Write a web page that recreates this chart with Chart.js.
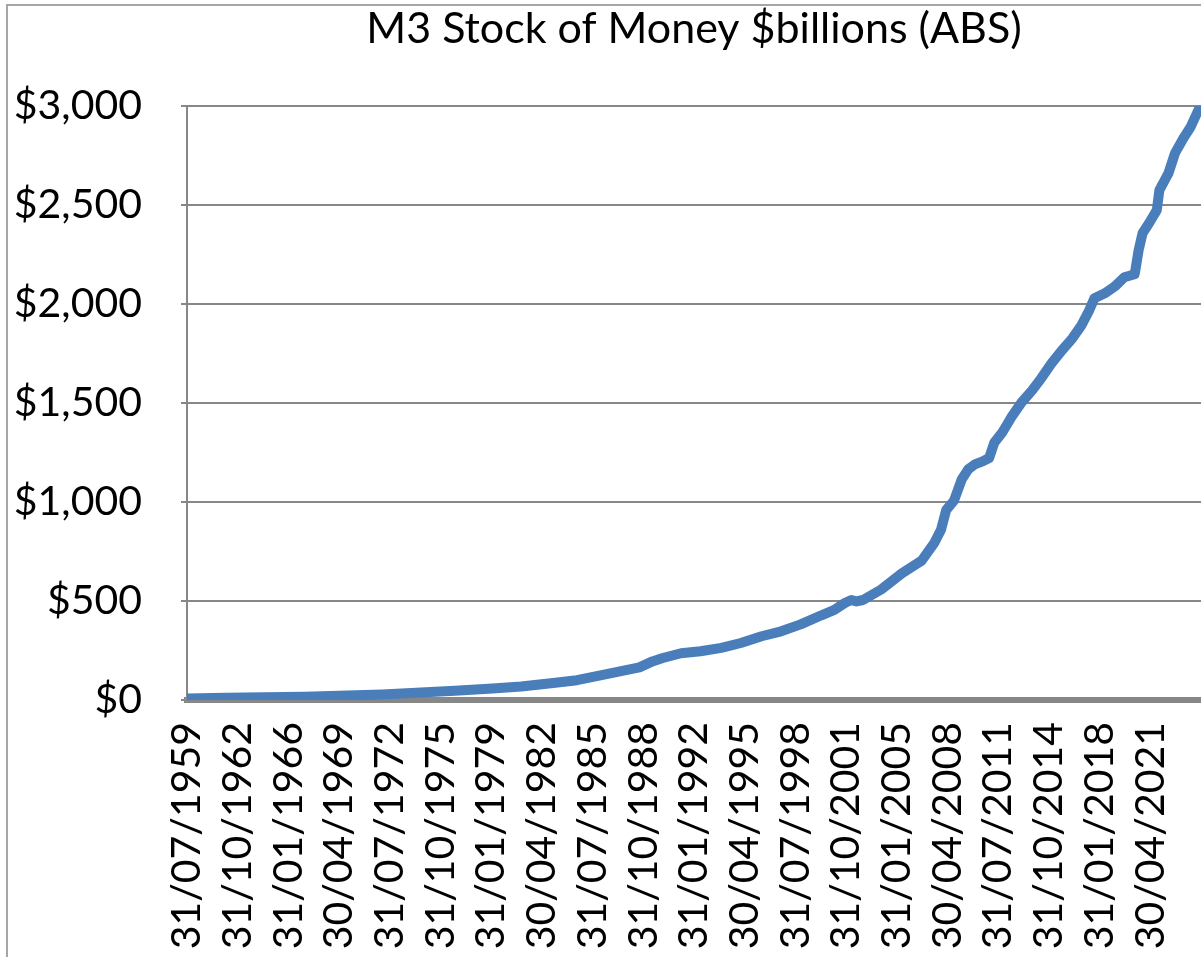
<!DOCTYPE html>
<html><head><meta charset="utf-8">
<script src="https://cdn.jsdelivr.net/npm/chart.js@4.4.1/dist/chart.umd.min.js"></script>
<style>
html,body{margin:0;padding:0;background:#fff;}
#wrap{position:relative;width:1201px;height:957px;overflow:hidden;background:#fff;}
#frame{position:absolute;left:6px;top:4px;width:1400px;height:1200px;border-left:2px solid #a6a6a6;border-top:2px solid #a6a6a6;}
canvas{position:absolute;left:0;top:0;}
</style></head><body>
<div id="wrap"><div id="frame"></div><canvas id="c" width="1201" height="957"></canvas></div>
<script>
const chartTitle = 'M3 Stock of Money $billions (ABS)';
const dates = ['1959-07','1962-01','1964-07','1967-01','1969-04','1972-01','1974-07','1976-09','1979-02','1980-12','1982-11','1984-07','1986-01','1987-04','1988-07','1989-05','1990-01','1991-03','1992-06','1993-10','1995-01','1996-05','1997-08','1998-11','2000-03','2001-01','2001-09','2002-02','2002-06','2002-11','2004-01','2005-05','2006-08','2007-06','2007-11','2008-03','2008-09','2009-03','2009-08','2010-01','2010-07','2010-12','2011-04','2011-10','2012-05','2013-01','2013-09','2014-04','2014-12','2015-08','2016-04','2016-11','2017-05','2017-09','2018-05','2019-01','2019-08','2020-04','2020-07','2020-10','2021-03','2021-09','2021-11','2022-06','2022-11','2023-06','2023-11','2024-05'];
const values = [8,11,14,17,21,28,38,47,58,68,85,100,124,145,165,195,212,236,246,263,288,322,347,382,428,455,490,505,498,505,558,640,703,795,860,960,1007,1115,1165,1190,1205,1222,1300,1350,1427,1503,1563,1624,1700,1766,1826,1892,1968,2029,2054,2090,2135,2150,2271,2357,2408,2474,2575,2661,2762,2843,2894,2980];
const tickLabels = ['31/07/1959','31/10/1962','31/01/1966','30/04/1969','31/07/1972','31/10/1975','31/01/1979','30/04/1982','31/07/1985','31/10/1988','31/01/1992','30/04/1995','31/07/1998','31/10/2001','31/01/2005','30/04/2008','31/07/2011','31/10/2014','31/01/2018','30/04/2021'];
const yMin = 0, yMax = 3000, yStep = 500;

const START_Y = 1959, START_M = 7;
function idxFromYM(s){ const [y,m] = s.split('-').map(Number); return (y-START_Y)*12 + (m-START_M); }
function idxFromDMY(s){ const [d,m,y] = s.split('/').map(Number); return (y-START_Y)*12 + (m-START_M); }
const tickIdx = tickLabels.map(idxFromDMY);
const points = dates.map((d,i)=>({x: idxFromYM(d), y: values[i]}));

const FONT = 'Lato';
const GRID = '#878787';

new Chart(document.getElementById('c'), {
  type: 'line',
  data: { datasets: [{ data: points, borderColor: '#4a7ebb', borderWidth: 10, pointRadius: 0, tension: 0, borderJoinStyle: 'round', borderCapStyle: 'round', fill: false }] },
  options: {
    responsive: false, animation: false, devicePixelRatio: 1,
    layout: { padding: 0 },
    plugins: {
      legend: { display: false }, tooltip: { enabled: false },
      title: { display: true, text: chartTitle, fullSize: false, color: '#000',
        font: { family: FONT, size: 43, weight: 'normal', lineHeight: 1.2 },
        padding: { top: 3.2, bottom: 51.2 } }
    },
    scales: {
      x: {
        type: 'linear', min: 0, max: 780,
        afterBuildTicks: s => { s.ticks = tickIdx.map(v => ({ value: v })); },
        afterFit: s => { s.height = 257; s.paddingLeft = 0; s.paddingRight = 0; },
        grid: { display: false },
        border: { display: true, color: GRID, width: 6 },
        ticks: { autoSkip: false, minRotation: 90, maxRotation: 90, padding: 14, color: '#000',
          font: { family: FONT, size: 41 }, callback: (v, i) => tickLabels[i] }
      },
      y: {
        min: yMin, max: yMax,
        afterFit: s => { s.width = 187; s.paddingTop = 0; s.paddingBottom = 0; },
        grid: { color: GRID, lineWidth: 2, tickLength: 6, drawTicks: true },
        border: { display: true, color: GRID, width: 2 },
        ticks: { stepSize: yStep, padding: 39, color: '#000', font: { family: FONT, size: 41 },
          callback: v => '$' + Number(v).toLocaleString('en-US') }
      }
    }
  }
});
</script>
</body></html>
